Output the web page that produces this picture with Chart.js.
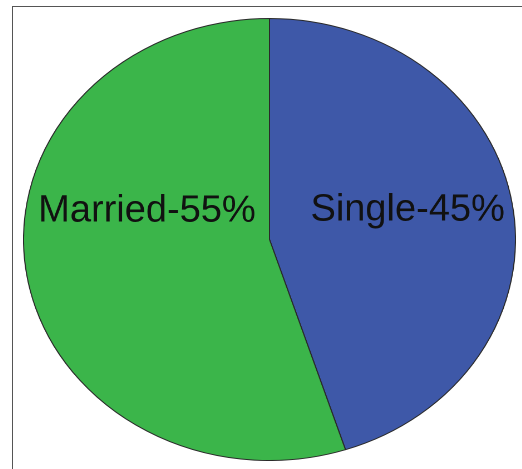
<!DOCTYPE html>
<html>
<head>
<meta charset="utf-8">
<script src="https://cdn.jsdelivr.net/npm/chart.js@4.4.0/dist/chart.umd.min.js"></script>
<style>
    html, body { margin: 0; padding: 0; background: #fff; overflow: hidden; }
    body { width: 522px; height: 469px; position: relative; }
    #frame {
        position: absolute; left: 12px; top: 6px;
        width: 700px; height: 700px;
        border-top: 1px solid #555; border-left: 1px solid #555;
    }
    #pieChart { position: absolute; left: 23px; top: 18px; }
</style>
</head>
<body>
<div id="frame"></div>
<canvas id="pieChart" width="443" height="443" style="width: 493px; height: 443px;"></canvas>
<script>
const categories = ['Single', 'Married'];
const shares = [45, 55];
const sliceColors = ['#3e58a8', '#3bb54a'];

// draws "Name-NN%" on each slice; the canvas is stretched into an ellipse
// with CSS, so the text is squeezed back to keep normal letter widths
const sliceLabels = {
    id: 'sliceLabels',
    afterDraw(chart, args, opts) {
        const ctx = chart.ctx;
        const meta = chart.getDatasetMeta(0);
        const stretch = chart.canvas.clientWidth / chart.width;
        ctx.save();
        ctx.font = opts.font;
        ctx.fillStyle = opts.color;
        ctx.textAlign = 'center';
        ctx.textBaseline = 'middle';
        meta.data.forEach((arc, i) => {
            const p = arc.getCenterPoint();
            const off = opts.offsets[i];
            ctx.save();
            ctx.translate(p.x + off.dx, p.y + off.dy);
            ctx.scale(1 / stretch, 1);
            ctx.fillText(`${chart.data.labels[i]}-${chart.data.datasets[0].data[i]}%`, 0, 0);
            ctx.restore();
        });
        ctx.restore();
    }
};

new Chart(document.getElementById('pieChart'), {
    type: 'pie',
    data: {
        labels: categories,
        datasets: [{
            data: shares,
            backgroundColor: sliceColors,
            borderColor: '#2a2a2a',
            borderWidth: 1
        }]
    },
    options: {
        responsive: false,
        devicePixelRatio: 2,
        animation: false,
        layout: { padding: 0 },
        plugins: {
            legend: { display: false },
            tooltip: { enabled: false },
            sliceLabels: {
                font: '38px "Liberation Sans", Arial, sans-serif',
                color: '#111',
                offsets: [{ dx: 15, dy: -12 }, { dx: -1, dy: -46 }]
            }
        }
    },
    plugins: [sliceLabels]
});
</script>
</body>
</html>
